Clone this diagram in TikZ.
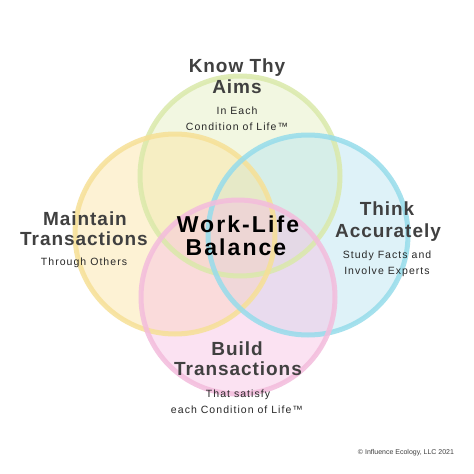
\documentclass[tikz,border=0pt]{standalone}
\usepackage{fontspec}
\setmainfont{Liberation Sans}
\newfontfamily\headfont[LetterSpace=5]{Liberation Sans}
\newfontfamily\subfont[LetterSpace=10]{Liberation Sans}
\newfontfamily\centfont[LetterSpace=9]{Liberation Sans}
\definecolor{gstroke}{RGB}{218,233,170}
\definecolor{ystroke}{RGB}{246,224,150}
\definecolor{bstroke}{RGB}{150,220,235}
\definecolor{pstroke}{RGB}{243,188,220}
\definecolor{gfill}{RGB}{228,238,190}
\definecolor{yfill}{RGB}{251,228,160}
\definecolor{bfill}{RGB}{182,228,241}
\definecolor{pfill}{RGB}{247,192,228}
\definecolor{headcol}{RGB}{64,64,64}
\definecolor{subcol}{RGB}{40,40,40}
\tikzset{
  ring/.style={line width=5pt, draw opacity=0.85},
  blob/.style={fill opacity=0.45},
  head/.style={anchor=base, inner sep=0pt, text=headcol, font=\headfont\bfseries\fontsize{19}{19}\selectfont},
  sub/.style={anchor=base, inner sep=0pt, text=subcol, font=\subfont\fontsize{10.5}{10.5}\selectfont},
  cent/.style={anchor=base, inner sep=0pt, text=black, font=\centfont\bfseries\fontsize{23}{23}\selectfont},
  copy/.style={anchor=base, inner sep=0pt, text=headcol, font=\fontsize{7}{7}\selectfont}
}
\begin{document}
\begin{tikzpicture}[x=1pt,y=-1pt]
\useasboundingbox (0,0) rectangle (474,474);
\fill[white] (0,0) rectangle (474,474);
% fills
\fill[gfill,blob] (240,176) circle (100);
\fill[bfill,blob] (308,235) circle (100);
\fill[yfill,blob] (175,234) circle (100);
\fill[pfill,blob] (238,297) circle (97);
% rings
\draw[gstroke,ring] (240,176) circle (100);
\draw[ystroke,ring] (175,234) circle (100);
\draw[bstroke,ring] (308,235) circle (100);
\draw[pstroke,ring] (238,297) circle (97);
% top
\node[head] (t1) at (237,72) {Know Thy};
\node[head] (t2) at (237,93) {Aims};
\node[sub] (t3) at (237,114) {In Each};
\node[sub] (t4) at (237,130) {Condition of Life™};
% left
\node[head] (l1) at (85,225) {Maintain};
\node[head] (l2) at (84,245) {Transactions};
\node[sub] (l3) at (84,265) {Through Others};
% right
\node[head] (r1) at (387,215) {Think};
\node[head] (r2) at (388,237) {Accurately};
\node[sub] (r3) at (387,258) {Study Facts and};
\node[sub] (r4) at (387,274) {Involve Experts};
% bottom
\node[head] (b1) at (237,355) {Build};
\node[head] (b2) at (238,375) {Transactions};
\node[sub] (b3) at (238,397) {That satisfy};
\node[sub] (b4) at (237,413) {each Condition of Life™};
% centre
\node[cent] (c1) at (238,232) {Work-Life};
\node[cent] (c2) at (236,255) {Balance};
% copyright
\node[copy] (cp) at (406,454) {© Influence Ecology, LLC 2021};
\end{tikzpicture}
\end{document}
